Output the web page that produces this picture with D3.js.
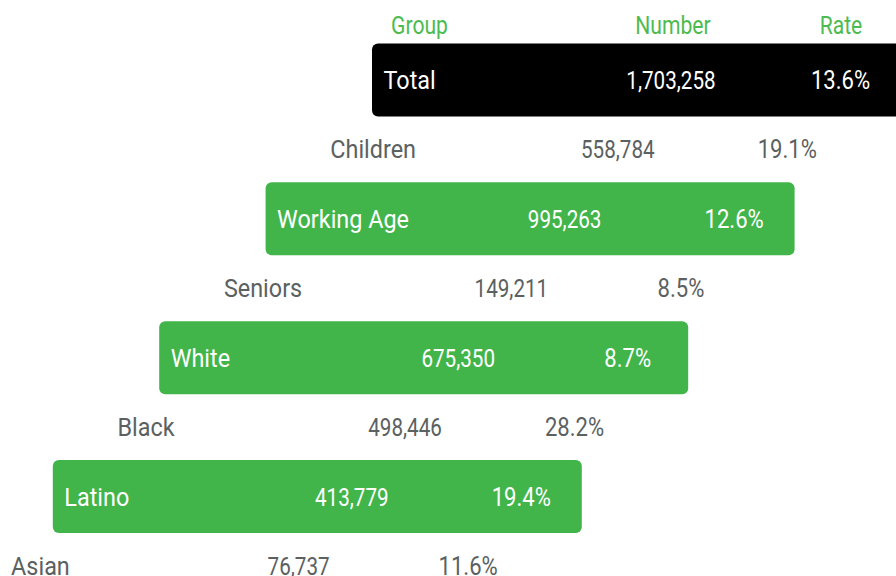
<!DOCTYPE html>
<html>
<head>
<meta charset="utf-8">
<script src="https://cdn.jsdelivr.net/npm/d3@7"></script>
<style>
  html, body { margin: 0; padding: 0; background: #fff; }
  svg { display: block; }
  text { font-family: Roboto, "Liberation Sans", sans-serif; }
</style>
</head>
<body>
<svg id="chart" width="896" height="576"></svg>
<script>
// ---- data ----
const headers = ["Group", "Number", "Rate"];
const groups  = ["Total", "Children", "Working Age", "Seniors", "White", "Black", "Latino", "Asian"];
const numbers = [1703258, 558784, 995263, 149211, 675350, 498446, 413779, 76737];
const rates   = [13.6, 19.1, 12.6, 8.5, 8.7, 28.2, 19.4, 11.6];

// ---- layout ----
const svg = d3.select("#chart");
const idx = d3.range(groups.length);

const yRow = d3.scaleLinear().domain([0, groups.length - 1]).range([80, 566]);
const xRow = d3.scaleLinear().domain([0, groups.length - 1]).range([372, 372 - 53.2 * 7]);

const boxW = 529, boxH = 73;
const labelPad = 11.5, numCenter = 299, rateCenter = 468.5;

const green = "#41b54a";
const headGreen = "#4dbb4f";
const gray = "#5b6161";

const fmtNum = d3.format(",");
const fmtRate = d => d3.format(".1f")(d) + "%";

function boxed(i) { return i % 2 === 0; }
function boxFill(i) { return i === 0 ? "#000" : green; }

// condensed look: horizontal squeeze
const fs = 25.5;
const k = 24 / fs;
const sxHead = 0.88 * k, sxLabel = 0.975 * k, sxNum = 0.86 * k, sxRate = 0.92 * k;

// header
const hx = [xRow(0) + 47.5, xRow(0) + numCenter + 2, xRow(0) + rateCenter + 0.5];
svg.append("g").selectAll("text").data(headers).join("text")
  .attr("transform", (d, i) => `translate(${hx[i]},25) scale(${sxHead},1)`)
  .attr("dy", "0.35em")
  .attr("text-anchor", "middle")
  .attr("fill", headGreen)
  .attr("font-size", fs)
  .text(d => d);

// rows
const rows = svg.append("g").selectAll("g").data(idx).join("g")
  .attr("transform", i => `translate(${xRow(i)},${yRow(i)})`);

rows.filter(i => boxed(i)).append("rect")
  .attr("x", 0).attr("y", -boxH / 2)
  .attr("width", boxW).attr("height", boxH)
  .attr("rx", 6).attr("ry", 6)
  .attr("fill", i => boxFill(i));

const txtFill = i => boxed(i) ? "#fff" : gray;

rows.append("text")
  .attr("transform", `translate(${labelPad},0) scale(${sxLabel},1)`)
  .attr("dy", "0.35em")
  .attr("font-size", fs)
  .attr("fill", txtFill)
  .text(i => groups[i]);

rows.append("text")
  .attr("transform", `translate(${numCenter},0) scale(${sxNum},1)`)
  .attr("dy", "0.35em")
  .attr("text-anchor", "middle")
  .attr("font-size", fs)
  .attr("fill", txtFill)
  .text(i => fmtNum(numbers[i]));

rows.append("text")
  .attr("transform", `translate(${rateCenter},0) scale(${sxRate},1)`)
  .attr("dy", "0.35em")
  .attr("text-anchor", "middle")
  .attr("font-size", fs)
  .attr("fill", txtFill)
  .text(i => fmtRate(rates[i]));
</script>
</body>
</html>
